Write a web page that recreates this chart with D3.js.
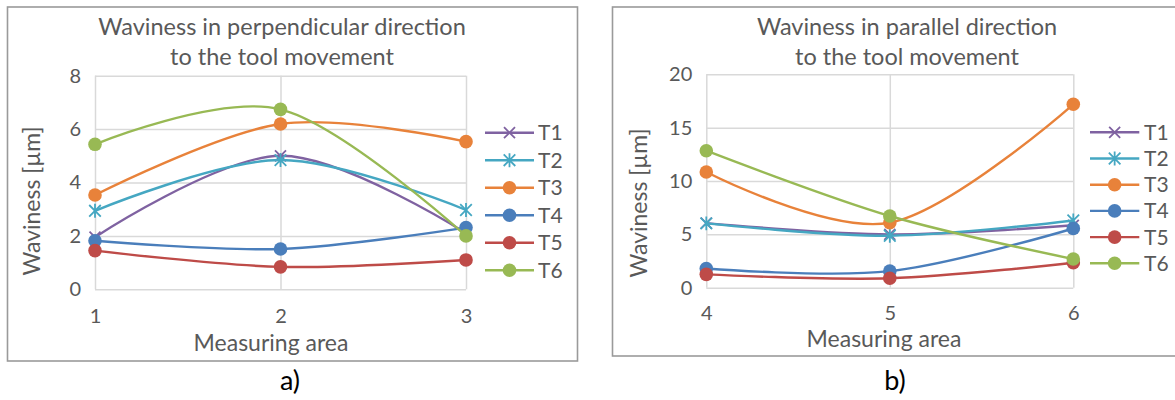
<!DOCTYPE html>
<html>
<head>
<meta charset="utf-8">
<script src="https://cdn.jsdelivr.net/npm/d3@7"></script>
<style>
  html, body { margin: 0; padding: 0; background: #fff; }
  svg { display: block; font-family: Lato, "Open Sans", sans-serif; }
</style>
</head>
<body>
<svg id="chart" width="1175" height="400"></svg>
<script>
// Series names and measuring areas
const seriesNames = ["T1", "T2", "T3", "T4", "T5", "T6"];
const areasPerp = [1, 2, 3];
const areasPar = [4, 5, 6];

// Waviness [µm] per tool, perpendicular direction (areas 1-3)
const perpT1 = [1.95, 5.0, 2.1];
const perpT2 = [2.94, 4.84, 2.97];
const perpT3 = [3.53, 6.19, 5.53];
const perpT4 = [1.82, 1.51, 2.31];
const perpT5 = [1.45, 0.84, 1.10];
const perpT6 = [5.43, 6.74, 2.0];

// Waviness [µm] per tool, parallel direction (areas 4-6)
const parT1 = [6.05, 5.0, 5.85];
const parT2 = [6.03, 4.87, 6.3];
const parT3 = [10.84, 6.09, 17.19];
const parT4 = [1.8, 1.55, 5.55];
const parT5 = [1.25, 0.88, 2.34];
const parT6 = [12.84, 6.72, 2.69];

// Y axis ticks
const perpTicks = [0, 2, 4, 6, 8];
const parTicks = [0, 5, 10, 15, 20];

const colors = ["#7f62a1", "#45a7c2", "#e8823a", "#4a7ebb", "#be4b48", "#98b954"];
const markers = ["x", "star", "circle", "circle", "circle", "circle"];

const svg = d3.select("#chart");
const textColor = "#595959";

function drawMarker(g, type, x, y, color) {
  if (type === "circle") {
    g.append("circle").attr("cx", x).attr("cy", y).attr("r", 6.8).attr("fill", color);
  } else if (type === "x") {
    const s = 5.5;
    g.append("path")
      .attr("d", `M${x - s},${y - s}L${x + s},${y + s}M${x - s},${y + s}L${x + s},${y - s}`)
      .attr("stroke", color).attr("stroke-width", 1.8).attr("fill", "none");
  } else if (type === "star") {
    const s = 5.8;
    g.append("path")
      .attr("d", `M${x - s},${y - s}L${x + s},${y + s}M${x - s},${y + s}L${x + s},${y - s}M${x},${y - s * 1.2}L${x},${y + s * 1.2}`)
      .attr("stroke", color).attr("stroke-width", 1.8).attr("fill", "none");
  }
}

function drawChart(cfg) {
  const g = svg.append("g");

  // outer frame
  g.append("rect")
    .attr("x", cfg.frame[0]).attr("y", cfg.frame[1])
    .attr("width", cfg.frame[2] - cfg.frame[0]).attr("height", cfg.frame[3] - cfg.frame[1])
    .attr("fill", "#fff").attr("stroke", "#9a9a9a").attr("stroke-width", 1.6);

  const x = d3.scalePoint().domain(cfg.areas).range([cfg.plot[0], cfg.plot[1]]);
  const y = d3.scaleLinear().domain([0, cfg.ticks[cfg.ticks.length - 1]]).range([cfg.plot[3], cfg.plot[2]]);

  // horizontal gridlines + y tick labels
  const yAxis = d3.axisLeft(y).tickValues(cfg.ticks).tickSize(-(cfg.plot[1] - cfg.plot[0])).tickPadding(14);
  const ya = g.append("g").attr("transform", `translate(${cfg.plot[0]},0)`).call(yAxis);
  ya.select(".domain").remove();
  ya.selectAll(".tick line").attr("stroke", "#d9d9d9").attr("stroke-width", 1.5);
  ya.selectAll(".tick text").attr("fill", textColor).attr("font-size", 20).attr("font-family", "Lato");

  // vertical gridlines + x tick labels
  const xAxis = d3.axisBottom(x).tickSize(-(cfg.plot[3] - cfg.plot[2])).tickPadding(cfg.xPad);
  const xa = g.append("g").attr("transform", `translate(0,${cfg.plot[3]})`).call(xAxis);
  xa.select(".domain").remove();
  xa.selectAll(".tick line").attr("stroke", "#d9d9d9").attr("stroke-width", 1.5);
  xa.selectAll(".tick text").attr("fill", textColor).attr("font-size", 20).attr("font-family", "Lato");

  // title
  const title = g.append("text").attr("fill", textColor).attr("font-size", 23.5).attr("text-anchor", "middle");
  cfg.title.forEach((line, i) => {
    title.append("tspan").attr("x", cfg.titleX).attr("y", 35 + i * 30).text(line);
  });

  // axis titles
  g.append("text").attr("fill", textColor).attr("font-size", 23).attr("text-anchor", "middle")
    .attr("transform", `translate(${cfg.yTitle[0]},${cfg.yTitle[1]}) rotate(-90)`)
    .text("Waviness [µm]");
  g.append("text").attr("fill", textColor).attr("font-size", 23).attr("text-anchor", "middle")
    .attr("x", cfg.xTitle[0]).attr("y", cfg.xTitle[1])
    .text("Measuring area");

  // smoothed series lines and markers
  const line = d3.line()
    .x((d, i) => x(cfg.areas[i]))
    .y(d => y(d))
    .curve(d3.curveCardinal.tension(0));

  cfg.series.forEach((vals, si) => {
    g.append("path").attr("d", line(vals)).attr("fill", "none")
      .attr("stroke", colors[si]).attr("stroke-width", 2.4).attr("stroke-linecap", "round");
    const mg = g.append("g");
    vals.forEach((v, i) => drawMarker(mg, markers[si], x(cfg.areas[i]), y(v), colors[si]));
  });

  // legend
  const lg = g.append("g");
  seriesNames.forEach((name, i) => {
    const ly = cfg.legend.y0 + i * cfg.legend.dy;
    lg.append("line").attr("x1", cfg.legend.x1).attr("x2", cfg.legend.x2)
      .attr("y1", ly).attr("y2", ly).attr("stroke", colors[i]).attr("stroke-width", 2.4);
    drawMarker(lg, markers[i], (cfg.legend.x1 + cfg.legend.x2) / 2, ly, colors[i]);
    lg.append("text").attr("x", cfg.legend.tx).attr("y", ly).attr("dy", "0.36em")
      .attr("fill", textColor).attr("font-size", 21).text(name);
  });

  // panel label
  g.append("text").attr("x", cfg.label[0]).attr("y", cfg.label[1]).attr("text-anchor", "middle")
    .attr("fill", "#000").attr("font-size", 27).text(cfg.label[2]);
}

drawChart({
  frame: [7.5, 7, 577.5, 361],
  plot: [95, 466, 75.7, 289.3],
  areas: areasPerp,
  ticks: perpTicks,
  series: [perpT1, perpT2, perpT3, perpT4, perpT5, perpT6],
  title: ["Waviness in perpendicular direction", "to the tool movement"],
  titleX: 282,
  xPad: 20,
  yTitle: [40, 201],
  xTitle: [271, 351],
  legend: { x1: 485, x2: 534, tx: 538, y0: 132.7, dy: 27.5 },
  label: [290, 390, "a)"]
});

drawChart({
  frame: [612.5, 7, 1180, 356],
  plot: [706.3, 1073.3, 74.3, 287.7],
  areas: areasPar,
  ticks: parTicks,
  series: [parT1, parT2, parT3, parT4, parT5, parT6],
  title: ["Waviness in parallel direction", "to the tool movement"],
  titleX: 907,
  xPad: 18,
  yTitle: [647, 203],
  xTitle: [884, 347],
  legend: { x1: 1090, x2: 1139.3, tx: 1144, y0: 132.3, dy: 26.2 },
  label: [895, 390, "b)"]
});
</script>
</body>
</html>
